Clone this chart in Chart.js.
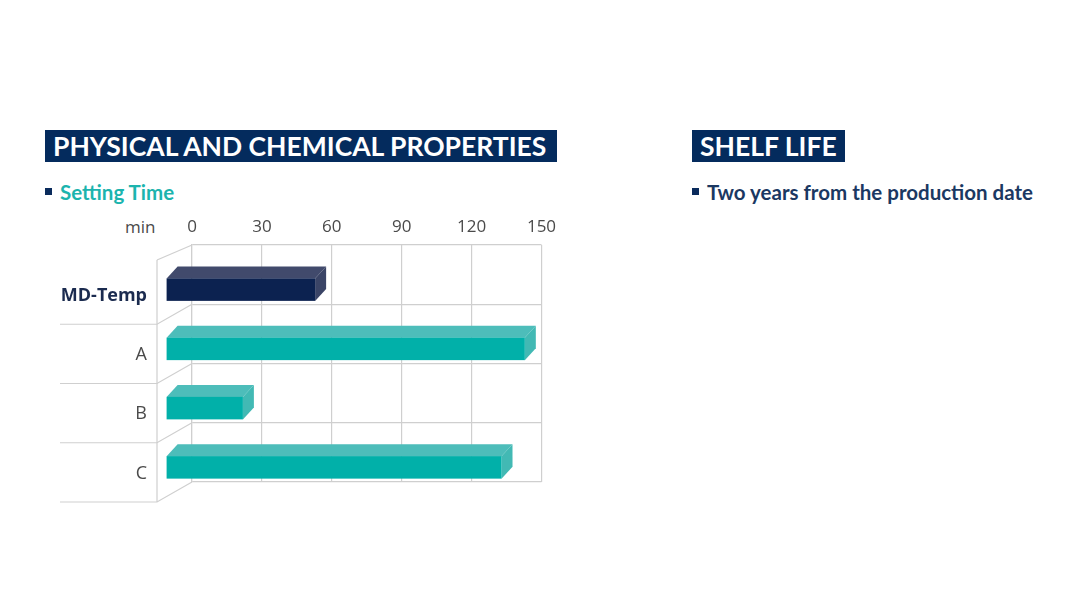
<!DOCTYPE html>
<html>
<head>
<meta charset="utf-8">
<script src="https://cdn.jsdelivr.net/npm/chart.js@4"></script>
<style>
  body { margin: 0; width: 1081px; height: 594px; background: #fff; overflow: hidden; position: relative; font-family: Lato, sans-serif; }
  .head { position: absolute; top: 130px; height: 32px; line-height: 33px; background: #042b5d; color: #fff; font-weight: 700; font-size: 26.5px; letter-spacing: 0; padding-left: 8px; box-sizing: border-box; white-space: nowrap; }
  .item { position: absolute; top: 180px; font-weight: 700; font-size: 20.5px; line-height: 24px; white-space: nowrap; }
  .item::before { content: ''; position: absolute; left: -15px; top: 8px; width: 7px; height: 7px; background: #0a2b5c; }
  .unit { position: absolute; left: 125px; top: 215px; font-family: 'Open Sans', sans-serif; font-size: 17px; color: #4a4a4a; }
  #wrap { position: absolute; left: 0; top: 200px; width: 600px; height: 320px; }
</style>
</head>
<body>
<div class="head" style="left:45px;width:512px;">PHYSICAL AND CHEMICAL PROPERTIES</div>
<div class="head" style="left:692px;width:153px;">SHELF LIFE</div>
<div class="item" style="left:60px;color:#1cb4ae;">Setting Time</div>
<div class="item" style="left:707px;color:#1b3862;">Two years from the production date</div>
<div class="unit">min</div>
<div id="wrap"><canvas id="chart"></canvas></div>

<script>
// setting time in minutes
const categories = ['MD-Temp', 'A', 'B', 'C'];
const settingTime = [64, 154, 33, 144];
const xTicks = [0, 30, 60, 90, 120, 150];

// front / top / side colours for each bar
const faceColors = [
  ['#0c2250', '#414a6c', '#3a4466'],
  ['#01b0a9', '#4dbdba', '#42b9b4'],
  ['#01b0a9', '#4dbdba', '#42b9b4'],
  ['#01b0a9', '#4dbdba', '#42b9b4']
];

const lineColor = '#cfcfcf';

const depthPlugin = {
  id: 'depth3d',
  beforeDatasetsDraw(chart) {
    const ctx = chart.ctx;
    const area = chart.chartArea;
    const n = categories.length;
    const band = (area.bottom - area.top) / n;

    // left wall and floor lines
    ctx.save();
    ctx.strokeStyle = lineColor;
    ctx.lineWidth = 1.2;
    for (let k = 0; k <= n; k++) {
      const yb = area.top + k * band;
      const dy = k === 0 ? 15 : 20;
      ctx.beginPath();
      ctx.moveTo(area.left, yb);
      ctx.lineTo(area.left - 35, yb + dy);
      if (k > 0) ctx.lineTo(60, yb + dy);
      ctx.stroke();
    }
    ctx.beginPath();
    ctx.moveTo(area.left - 35, area.top + 15);
    ctx.lineTo(area.left - 35, area.bottom + 20);
    ctx.stroke();

    // 3d bars
    const meta = chart.getDatasetMeta(0);
    meta.data.forEach((bar, i) => {
      const p = bar.getProps(['x', 'y', 'base', 'height'], true);
      const x0 = p.base - 26;
      const x1 = p.x - 26;
      const top = p.y + 15 - p.height / 2;
      const bot = p.y + 15 + p.height / 2;
      const dx = 11, dy = -12;
      const [front, upper, side] = faceColors[i];

      ctx.fillStyle = upper;
      ctx.beginPath();
      ctx.moveTo(x0, top);
      ctx.lineTo(x1, top);
      ctx.lineTo(x1 + dx, top + dy);
      ctx.lineTo(x0 + dx, top + dy);
      ctx.closePath();
      ctx.fill();

      ctx.fillStyle = side;
      ctx.beginPath();
      ctx.moveTo(x1, top);
      ctx.lineTo(x1 + dx, top + dy);
      ctx.lineTo(x1 + dx, bot + dy);
      ctx.lineTo(x1, bot);
      ctx.closePath();
      ctx.fill();

      ctx.fillStyle = front;
      ctx.fillRect(x0, top, x1 - x0, bot - top);
    });
    ctx.restore();
    return false;
  }
};

new Chart(document.getElementById('chart'), {
  type: 'bar',
  data: {
    labels: categories,
    datasets: [{
      label: 'Setting Time',
      data: settingTime,
      backgroundColor: '#01b0a9',
      barThickness: 22.5
    }]
  },
  options: {
    indexAxis: 'y',
    responsive: true,
    maintainAspectRatio: false,
    animation: false,
    layout: { padding: { top: 0, right: 58.5, bottom: 38, left: 0 } },
    plugins: {
      legend: { display: false },
      tooltip: { enabled: false }
    },
    scales: {
      x: {
        position: 'top',
        min: 0,
        max: 150,
        afterBuildTicks: scale => { scale.ticks = xTicks.map(v => ({ value: v })); },
        afterFit: scale => {
          scale.height = 45;
          scale.paddingLeft = 0;
          scale.paddingRight = 0;
        },
        grid: { color: lineColor, lineWidth: 1.2, drawTicks: false },
        border: { display: false },
        ticks: {
          padding: 8,
          color: '#4a4a4a',
          font: { family: 'Open Sans', size: 17 }
        }
      },
      y: {
        afterFit: scale => {
          scale.width = 192;
          scale.paddingTop = 0;
          scale.paddingBottom = 0;
        },
        grid: { color: lineColor, lineWidth: 1.2, drawTicks: false, offset: true },
        border: { display: true, color: lineColor, width: 1.2 },
        ticks: {
          padding: 45,
          labelOffset: 21,
          color: ctx => ctx.index === 0 ? '#1b2b4f' : '#4a4a4a',
          font: ctx => ctx.index === 0
            ? { family: 'Open Sans', size: 18, weight: 'bold' }
            : { family: 'Open Sans', size: 18 }
        }
      }
    }
  },
  plugins: [depthPlugin]
});
</script>
</body>
</html>
